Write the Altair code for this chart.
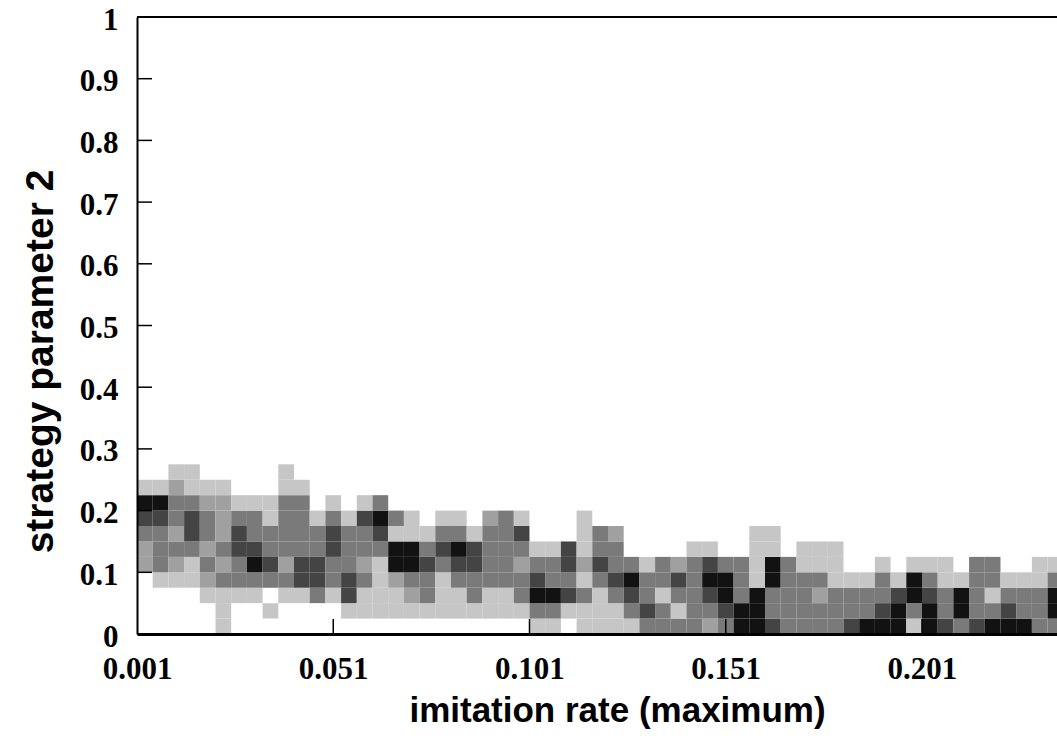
import altair as alt
import pandas as pd

# Heat-map cells: one string per x bin (imitation rate), characters are
# intensity levels (0 = empty ... 5 = black) for y bins from 0 upward.
x_start = 0.001
x_step = 0.004
y_step = 0.025
columns = [
    "00002234510", "00013334510", "00012323321", "00011344311", "00123233210",
    "11132322210", "00133443100", "00135433100", "01034331100", "00132333311",
    "00144333310", "00344331000", "00133443100", "01443331000", "01132334100",
    "01111345300", "01125513000", "01235511000", "01334310000", "01113431000",
    "01134531000", "01334410000", "01133332000", "01133333000", "01332341000",
    "13543100000", "13533100000", "01434400000", "11312111000", "11134330000",
    "11343320000", "13453000000", "34331000000", "33133000000", "31342000000",
    "33333100000", "23454100000", "34553000000", "55333000000", "55511110000",
    "43355110000", "33333000000", "33331100000", "33231100000", "33311100000",
    "43310000000", "53310000000", "54331000000", "55410000000", "13551000000",
    "55431000000", "43311000000", "35510000000", "43333000000", "53133000000",
    "54310000000", "53310000000", "33311000000", "35531000000",
]
levels = [1, 2, 3, 4, 5]
level_colors = ["#c6c6c6", "#a0a0a0", "#7a7a7a", "#444444", "#121212"]

x_ticks = [0.001, 0.051, 0.101, 0.151, 0.201]
y_ticks = [0, 0.1, 0.2, 0.3, 0.4, 0.5, 0.6, 0.7, 0.8, 0.9, 1]
x_domain = [0.001, 0.2354]

recs = []
for ci, s in enumerate(columns):
    for ri, ch in enumerate(s):
        if ch != "0":
            recs.append({
                "x0": x_start + ci * x_step,
                "x1": x_start + (ci + 1) * x_step,
                "y0": ri * y_step,
                "y1": (ri + 1) * y_step,
                "level": int(ch),
            })
cells = pd.DataFrame(recs)

W, H = 920, 617
xscale = alt.Scale(domain=x_domain, nice=False, zero=False)
yscale = alt.Scale(domain=[0, 1], nice=False)

x_axis = alt.Axis(
    values=x_ticks, format=".3f", ticks=False, grid=False,
    domainColor="black", domainWidth=3, labelPadding=20,
    labelFont="Liberation Serif", labelFontWeight="bold", labelFontSize=31,
    labelColor="black", labelAlign="center",
    title="imitation rate (maximum)", titleFont="Liberation Sans",
    titleFontWeight="bold", titleFontSize=35, titleColor="black",
    titleX=480, titleY=76, titleBaseline="middle", titleAlign="center",
    zindex=1,
)
y_axis = alt.Axis(
    values=y_ticks, format=".1~f", ticks=False, grid=False,
    domainColor="black", domainWidth=2, labelPadding=19, labelOffset=3,
    labelFont="Liberation Serif", labelFontWeight="bold", labelFontSize=31,
    labelColor="black", labelBaseline="middle",
    title="strategy parameter 2", titleFont="Liberation Sans",
    titleFontWeight="bold", titleFontSize=39, titleColor="black",
    titleX=-97, titleY=344, titleAngle=-90, titleBaseline="middle",
    titleAlign="center", zindex=1,
)

rects = alt.Chart(cells).mark_rect(clip=True, strokeWidth=0).encode(
    x=alt.X("x0:Q", scale=xscale, axis=x_axis),
    x2="x1:Q",
    y=alt.Y("y0:Q", scale=yscale, axis=y_axis),
    y2="y1:Q",
    color=alt.Color("level:O", scale=alt.Scale(domain=levels, range=level_colors), legend=None),
)

xt = alt.Chart(pd.DataFrame({"v": x_ticks[1:]})).mark_rule(color="black", strokeWidth=1.5).encode(
    x=alt.X("v:Q", scale=xscale),
    y=alt.value(H),
    y2=alt.value(H - 15),
)
yt = alt.Chart(pd.DataFrame({"v": y_ticks[1:-1]})).mark_rule(color="black", strokeWidth=1.5).encode(
    y=alt.Y("v:Q", scale=yscale),
    x=alt.value(0),
    x2=alt.value(15),
)
top = alt.Chart(pd.DataFrame({"v": [1]})).mark_rule(color="black", strokeWidth=2).encode(
    y=alt.value(0),
    x=alt.value(0),
    x2=alt.value(W),
)

chart = alt.layer(rects, xt, yt, top).properties(
    width=W, height=H,
    autosize=alt.AutoSizeParams(type="none"),
    padding={"left": 137, "top": 17, "right": 0, "bottom": 107},
).configure_view(stroke=None).configure(background="white")

chart.save("out.html", embed_options={"renderer": "svg", "actions": False})
